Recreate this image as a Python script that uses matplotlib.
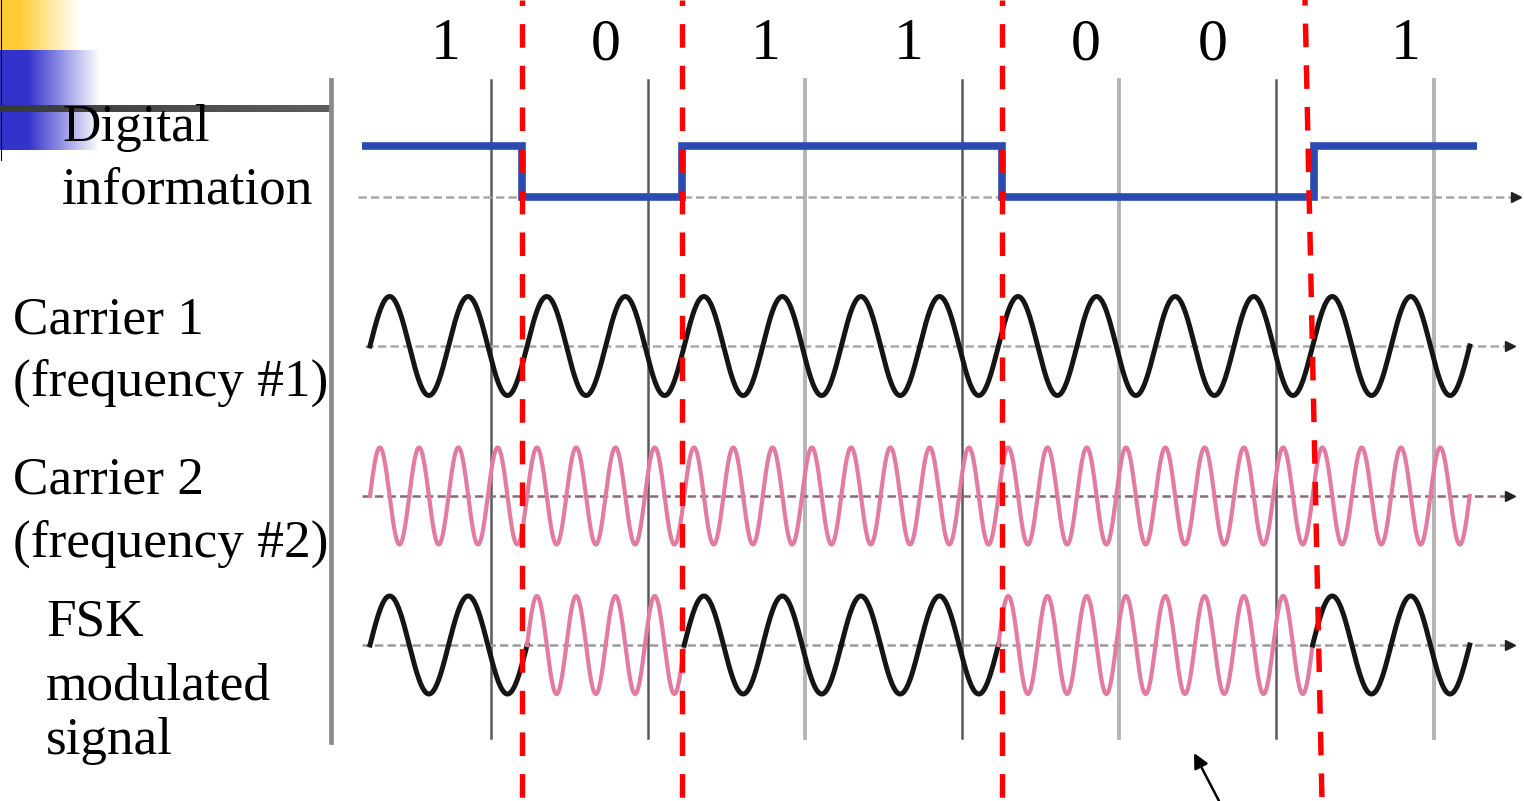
import numpy as np
import matplotlib
matplotlib.use("Agg")
import matplotlib.pyplot as plt
from matplotlib.transforms import blended_transform_factory

# ---------------- data ----------------
bits = [1, 0, 1, 1, 0, 0, 1]
bit_labels = ["1", "0", "1", "1", "0", "0", "1"]
carrier1_cycles_per_bit = 2
carrier2_cycles_per_bit = 4
digital_label = ["Digital", "information"]
carrier1_label = ["Carrier 1", "(frequency #1)"]
carrier2_label = ["Carrier 2", "(frequency #2)"]
fsk_label = ["FSK", "modulated", "signal"]

# ---------------- layout ----------------
W, H = 1524, 801
plt.rcParams["lines.scale_dashes"] = False
SERIF = ["Liberation Serif", "DejaVu Serif"]

fig = plt.figure(figsize=(W / 100, H / 100), dpi=100)
fig.patch.set_facecolor("white")

X0, BW = 361.5, 160.0          # digital frame: left edge and bit width in px
C0, CW = 370.0, 157.1          # carrier frame


def px2bit(px):
    return (px - X0) / BW


def car2bit(s):
    return px2bit(C0 + CW * np.asarray(s))


XL, XR = px2bit(0), px2bit(W)

# decoration axes in pixel coordinates (slide template)
deco = fig.add_axes([0, 0, 1, 1], zorder=0)
deco.set_xlim(0, W)
deco.set_ylim(H, 0)
deco.axis("off")


def hgrad(x0, x1, y0, y1, rgb, solid_px):
    n = 200
    xs = np.linspace(x0, x1, n)
    t = np.clip((xs - x0 - solid_px) / (x1 - x0 - solid_px), 0, 1)
    col = np.array(rgb)[None, :] * (1 - t)[:, None] + np.ones(3)[None, :] * t[:, None]
    img = col[None, :, :]
    deco.imshow(img, extent=(x0, x1, y1, y0), aspect="auto", interpolation="bilinear", zorder=1)


hgrad(0, 80, 0, 50, (1.0, 0.80, 0.20), 18)
hgrad(0, 100, 50, 150, (0.20, 0.20, 0.80), 28)
deco.plot([0.5, 0.5], [0, 160], color="black", lw=0.8, zorder=2)
# title underline bar
bar = np.linspace(0, 1, 100)
barcol = np.stack([0.22 + 0.15 * bar] * 3, axis=1)[None, :, :]
deco.imshow(barcol, extent=(0, 330, 112, 105), aspect="auto", zorder=3)
deco.set_xlim(0, W)
deco.set_ylim(H, 0)

# pointer arrow
deco.annotate("", xy=(1194, 753), xytext=(1219, 801),
              arrowprops=dict(arrowstyle="-|>", color="black", lw=1.8,
                              mutation_scale=22, shrinkA=0, shrinkB=0), zorder=5)

# background overlay (grid lines) in bit coordinates
back = fig.add_axes([0, 0, 1, 1], zorder=1)
back.set_xlim(XL, XR)
back.set_ylim(0, 1)
back.axis("off")
back.patch.set_alpha(0)

# left axis of the embedded diagram
back.axvline(px2bit(331), ymin=1 - 742 / H, ymax=1 - 80 / H, color="#8a8a8a", lw=3.4)
# ruler lines of the embedded diagram
grid_styles = [("#5a5a5a", 1.8), ("#5a5a5a", 1.8), ("#b4b4b4", 2.8), ("#5a5a5a", 1.8),
               ("#b4b4b4", 2.8), ("#5a5a5a", 1.8), ("#b4b4b4", 2.8)]
for k, (c, lw) in enumerate(grid_styles):
    back.axvline(car2bit(k + 0.77), ymin=1 - 738 / H, ymax=1 - 80 / H, color=c, lw=lw)


def row_axes(zero_px, unit_px, top_px, bot_px):
    ax = fig.add_axes([0, 1 - bot_px / H, 1, (bot_px - top_px) / H], zorder=2)
    ax.set_xlim(XL, XR)
    ax.set_ylim((zero_px - bot_px) / unit_px, (zero_px - top_px) / unit_px)
    ax.axis("off")
    ax.patch.set_alpha(0)
    return ax


def baseline(ax, x_start_px, x_end_px, color="#a8a8a8"):
    ax.plot([px2bit(x_start_px), px2bit(x_end_px)], [0, 0], color=color, lw=1.8,
            ls=(0, (6, 3)), zorder=1)
    ax.plot([px2bit(x_end_px + 2)], [0], marker=">", color="#222222", ms=7, zorder=2)


# ---- digital information ----
edge_nudge_px = [0, 0, 0, 0, 0, 0, -8]
axd = row_axes(197, 51, 90, 250)
baseline(axd, 358, 1514)
xs = [px2bit(X0 + BW * k + nd) for k, nd in zip(range(len(bits)), edge_nudge_px)]
xs += [px2bit(X0 + BW * 6.97)]
ys = bits + [bits[-1]]
axd.step(xs, ys, where="post", color="#2a4cb2", lw=5.5, solid_joinstyle="miter",
         solid_capstyle="butt", zorder=3)

# ---- carriers ----
s = np.linspace(0, len(bits), 4000)
c1 = np.sin(2 * np.pi * carrier1_cycles_per_bit * s)
c2 = np.sin(2 * np.pi * carrier2_cycles_per_bit * s)

ax1 = row_axes(346, 49.5, 260, 430)
baseline(ax1, 365, 1508)
ax1.plot(car2bit(s), c1, color="#151515", lw=3.6, zorder=3)

ax2 = row_axes(496, 48.5, 420, 575)
baseline(ax2, 362, 1508, color="#8a6a78")
ax2.plot(car2bit(s), c2, color="#e27aa2", lw=3.0, zorder=3)

# ---- FSK ----
axf = row_axes(645, 49, 570, 730)
baseline(axf, 362, 1508, color="#9a9a9a")
for k, b in enumerate(bits):
    sk = np.linspace(k, k + 1, 600)
    if b == 1:
        axf.plot(car2bit(sk), np.sin(2 * np.pi * carrier1_cycles_per_bit * sk),
                 color="#151515", lw=3.6, zorder=3)
    else:
        axf.plot(car2bit(sk), np.sin(2 * np.pi * carrier2_cycles_per_bit * sk),
                 color="#e27aa2", lw=3.0, zorder=3)

# ---- front overlay: red dashed bit transitions ----
front = fig.add_axes([0, 0, 1, 1], zorder=3)
front.set_xlim(XL, XR)
front.set_ylim(0, 1)
front.axis("off")
front.patch.set_alpha(0)
trans = blended_transform_factory(front.transData, front.transAxes)
boundaries = [k for k in range(1, len(bits)) if bits[k] != bits[k - 1]]
dash_tilt_px = [0, 0, 0, 17]
dash_shift_px = [0, 0, 0, -8]
for b, tilt, sh in zip(boundaries, dash_tilt_px, dash_shift_px):
    xt = b + (sh - tilt / 2) / BW
    xb = b + (sh + tilt / 2) / BW
    front.plot([xt, xb], [1, 0], transform=trans, color="#ff0000", lw=3.9,
               ls=(13, (17, 13)), solid_capstyle="butt", dash_capstyle="butt")

# ---- texts ----
label_nudge_px = [4, 4, 4, -13, 4, -29, 4]
for k, (lab, nd) in enumerate(zip(bit_labels, label_nudge_px)):
    xc = X0 + BW * (k + 0.5) + nd
    fig.text(xc / W, 1 - 59 / H, lab, ha="center", va="baseline",
             fontsize=43, family=SERIF, color="black", zorder=10)


def block(lines, x_px, baselines_px):
    for t, yb in zip(lines, baselines_px):
        fig.text(x_px / W, 1 - yb / H, t, ha="left", va="baseline",
                 fontsize=38.3, family=SERIF, color="black", zorder=10)


block(digital_label, 62, [141, 203])
block(carrier1_label, 13, [333, 396])
block(carrier2_label, 13, [494, 557])
block(fsk_label, 46, [636, 700, 754])

fig.savefig("out.png", dpi=100, facecolor="white")
